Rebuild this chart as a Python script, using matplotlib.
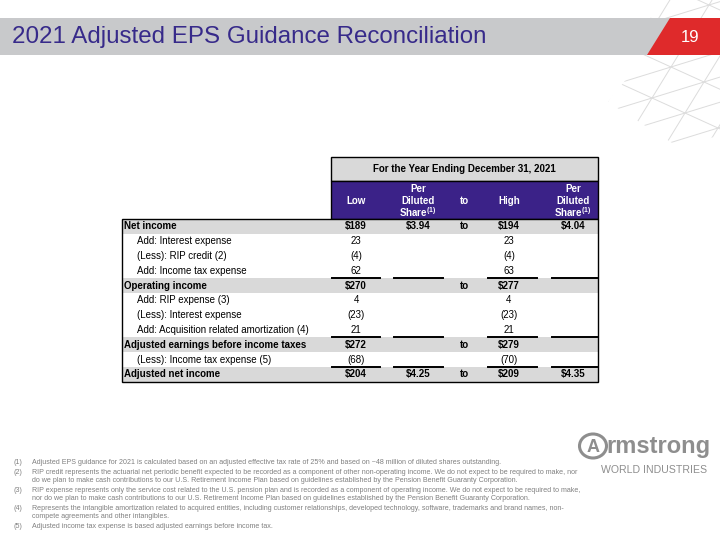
import numpy as np
import matplotlib.pyplot as plt
from matplotlib.patches import Rectangle, Polygon, Ellipse

plt.rcParams['font.family'] = ['Liberation Sans', 'DejaVu Sans']
plt.rcParams['mathtext.fontset'] = 'custom'
plt.rcParams['mathtext.rm'] = 'Liberation Sans'
plt.rcParams['mathtext.bf'] = 'Liberation Sans:bold'

### Data
title = "2021 Adjusted EPS Guidance Reconciliation"
page_no = "19"
period = "For the Year Ending December 31, 2021"
col_heads = ["Low", ["Per", "Diluted", "Share$^{\\mathbf{(1)}}$"], "to", "High",
             ["Per", "Diluted", "Share$^{\\mathbf{(1)}}$"]]

row_labels = ["Net income", "Add: Interest expense", "(Less): RIP credit (2)",
              "Add: Income tax expense", "Operating income", "Add: RIP expense (3)",
              "(Less): Interest expense", "Add: Acquisition related amortization (4)",
              "Adjusted earnings before income taxes", "(Less): Income tax expense (5)",
              "Adjusted net income"]
low = ["$189", "23", "(4)", "62", "$270", "4", "(23)", "21", "$272", "(68)", "$204"]
low_ps = ["$3.94", "", "", "", "", "", "", "", "", "", "$4.25"]
to_col = ["to", "", "", "", "to", "", "", "", "to", "", "to"]
high = ["$194", "23", "(4)", "63", "$277", "4", "(23)", "21", "$279", "(70)", "$209"]
high_ps = ["$4.04", "", "", "", "", "", "", "", "", "", "$4.35"]
subtotal = [True, False, False, False, True, False, False, False, True, False, True]

footnotes = [
    ("(1)", ["Adjusted EPS guidance for 2021 is calculated based on an adjusted effective tax rate of 25% and based on ~48 million of diluted shares outstanding."]),
    ("(2)", ["RIP credit represents the actuarial net periodic benefit expected to be recorded as a component of other non-operating income. We do not expect to be required to make, nor",
             "do we plan to make cash contributions to our U.S. Retirement Income Plan based on guidelines established by the Pension Benefit Guaranty Corporation."]),
    ("(3)", ["RIP expense represents only the service cost related to the U.S. pension plan and is recorded as a component of operating income. We do not expect to be required to make,",
             "nor do we plan to make cash contributions to our U.S. Retirement Income Plan based on guidelines established by the Pension Benefit Guaranty Corporation."]),
    ("(4)", ["Represents the intangible amortization related to acquired entities, including customer relationships, developed technology, software, trademarks and brand names, non-",
             "compete agreements and other intangibles."]),
    ("(5)", ["Adjusted income tax expense is based adjusted earnings before income tax."]),
]

### Colours / layout
purple = '#3B2288'
title_col = '#372A8A'
bar_gray = '#C8C9CB'
red = '#DF2A2B'
row_gray = '#D9D9D9'
note_gray = '#808080'
logo_gray = '#8E8E8E'

fig = plt.figure(figsize=(7.2, 5.4), dpi=100)
ax = fig.add_axes([0, 0, 1, 1])
ax.set_xlim(0, 720)
ax.set_ylim(540, 0)
ax.axis('off')

# decorative lattice top right
clip = Polygon([(655, 0), (720, 0), (720, 135), (680, 148), (608, 102), (640, 62)],
               closed=True, transform=ax.transData, facecolor='none', edgecolor='none')
ax.add_patch(clip)
o = np.array([652.0, 98.0])
d1 = np.array([-19.0, 31.0])
d2 = np.array([33.0, 15.0])
d3 = d2 - d1
for d, step in [(d1, d2), (d2, d1), (d3, d1)]:
    for k in range(-8, 9):
        p = o + k * step
        seg = np.array([p - 10 * d, p + 10 * d])
        ln, = ax.plot(seg[:, 0], seg[:, 1], color='#DCDCDC', lw=0.7, zorder=1)
        ln.set_clip_path(clip)

# title bar
ax.add_patch(Rectangle((0, 18), 670, 37, facecolor=bar_gray, edgecolor='none', zorder=2))
ax.add_patch(Polygon([(670, 18), (720, 18), (720, 55), (647, 55)], closed=True,
                     facecolor=red, edgecolor='none', zorder=3))
ax.text(12, 37.5, title, fontsize=17.4, color=title_col, va='center', ha='left', zorder=4)
ax.text(690, 37.5, page_no, fontsize=12, color='white', va='center', ha='center', zorder=4)

# table geometry
x_left, x_head, x_right = 122, 331, 598
col_x = [356, 418, 464, 509, 573]
line_cols = [(332, 380), (394, 443), (488, 537), (552, 597)]
y_head0, y_head1, y_body0 = 157, 181, 219
row_h = 14.8
n = len(row_labels)
y_body1 = y_body0 + n * row_h
fs = 7

ax.add_patch(Rectangle((x_head, y_head0), x_right - x_head, y_head1 - y_head0,
                       facecolor=row_gray, edgecolor='black', lw=1, zorder=2))
ax.text((x_head + x_right) / 2, (y_head0 + y_head1) / 2, period, fontsize=fs,
        fontweight='bold', ha='center', va='center', zorder=4)
ax.add_patch(Rectangle((x_head, y_head1), x_right - x_head, y_body0 - y_head1,
                       facecolor=purple, edgecolor='black', lw=1, zorder=2))
for cx, head in zip(col_x, col_heads):
    if isinstance(head, list):
        for j, part in enumerate(head):
            ax.text(cx, 189 + j * 11.5, part, fontsize=fs, fontweight='bold', color='white',
                    ha='center', va='center', zorder=4)
    else:
        ax.text(cx, 201, head, fontsize=fs, fontweight='bold', color='white',
                ha='center', va='center', zorder=4)

cols = [low, low_ps, to_col, high, high_ps]
for i, lab in enumerate(row_labels):
    y0 = y_body0 + i * row_h
    yc = y0 + row_h / 2
    bold = subtotal[i]
    if bold:
        ax.add_patch(Rectangle((x_left, y0), x_right - x_left, row_h,
                               facecolor=row_gray, edgecolor='none', zorder=2))
        if i > 0:
            for a, b in line_cols:
                ax.plot([a, b], [y0, y0], color='black', lw=1.4, zorder=5)
    ax.text(x_left + (2 if bold else 15), yc, lab, fontsize=fs,
            fontweight='bold' if bold else 'normal', ha='left', va='center', zorder=4)
    for cx, col in zip(col_x, cols):
        if col[i]:
            ax.text(cx, yc, col[i], fontsize=fs, fontweight='bold' if bold else 'normal',
                    ha='center', va='center', zorder=4)

ax.add_patch(Rectangle((x_left, y_body0), x_right - x_left, y_body1 - y_body0,
                       facecolor='none', edgecolor='black', lw=1, zorder=6))

# footnotes
y = 463
for tag, lines in footnotes:
    ax.text(14, y, tag, fontsize=5.1, color=note_gray, ha='left', va='center')
    for ln in lines:
        ax.text(32, y, ln, fontsize=5.1, color=note_gray, ha='left', va='center')
        y += 9

# logo
ax.add_patch(Ellipse((593, 446), 27, 24, facecolor='none', edgecolor=logo_gray, lw=2.2))
ax.text(593, 447.5, "A", fontsize=13, fontweight='bold', color=logo_gray,
        ha='center', va='center')
ax.text(606, 447, "rmstrong", fontsize=17, fontweight='bold', color=logo_gray,
        ha='left', va='center')
ax.text(654, 470, "WORLD INDUSTRIES", fontsize=7.6, color=logo_gray,
        ha='center', va='center')

plt.savefig('out.png', dpi=100)
